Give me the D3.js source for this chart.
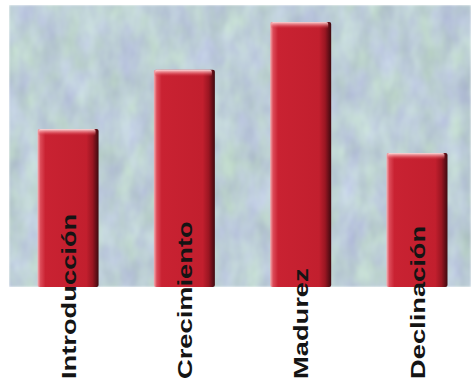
<!DOCTYPE html>
<html>
<head>
<meta charset="utf-8">
<script src="https://cdn.jsdelivr.net/npm/d3@7"></script>
<style>
  html, body { margin: 0; padding: 0; background: #ffffff; }
  svg { display: block; }
</style>
</head>
<body>
<script>
// Product life-cycle stages and their relative sales level
const stages = ["Introducción", "Crecimiento", "Madurez", "Declinación"];
const salesLevel = [56, 77, 94, 47.5];

const W = 471, H = 383;
const plot = { left: 9, right: 471, top: 5, bottom: 287 };

const svg = d3.select("body").append("svg")
  .attr("width", W).attr("height", H);

const defs = svg.append("defs");

// Marbled blue-grey backdrop
const tex = defs.append("filter").attr("id", "marble")
  .attr("x", 0).attr("y", 0).attr("width", 1).attr("height", 1)
  .attr("filterUnits", "objectBoundingBox")
  .attr("color-interpolation-filters", "sRGB");
tex.append("feTurbulence")
  .attr("type", "fractalNoise")
  .attr("baseFrequency", "0.05 0.028")
  .attr("numOctaves", 3)
  .attr("seed", 11)
  .attr("result", "noise");
tex.append("feColorMatrix")
  .attr("in", "noise")
  .attr("type", "matrix")
  .attr("values", [
    "0.06 0.15 0 0 0.635",
    "0.14 0.15 0 0 0.665",
    "-0.08 0.15 0 0 0.805",
    "0 0 0 0 1"
  ].join(" "))
  .attr("result", "col");
tex.append("feGaussianBlur").attr("in", "col").attr("stdDeviation", 1.2);

// Bar body: light left bevel, red face, dark right edge
const body = defs.append("linearGradient").attr("id", "barBody")
  .attr("x1", 0).attr("x2", 1).attr("y1", 0).attr("y2", 0);
[
  [0, "#f3b0b4"], [0.05, "#dc4a58"], [0.13, "#c92232"],
  [0.80, "#c21f2e"], [0.90, "#9a1622"], [1, "#3e0a10"]
].forEach(([o, c]) => body.append("stop").attr("offset", o).attr("stop-color", c));

// Top bevel highlight
const cap = defs.append("linearGradient").attr("id", "barCap")
  .attr("x1", 0).attr("x2", 0).attr("y1", 0).attr("y2", 1);
[
  [0, "#ffe6e6", 0.95], [0.45, "#f08a92", 0.6], [1, "#c92232", 0]
].forEach(([o, c, a]) => cap.append("stop").attr("offset", o)
  .attr("stop-color", c).attr("stop-opacity", a));

svg.append("rect")
  .attr("x", plot.left).attr("y", plot.top)
  .attr("width", plot.right - plot.left).attr("height", plot.bottom - plot.top)
  .attr("fill", "#b9ccd6")
  .attr("filter", "url(#marble)");

const x = d3.scaleBand()
  .domain(stages)
  .range([11.5, 473.5])
  .paddingInner(0.475)
  .paddingOuter(0.2236);

const y = d3.scaleLinear()
  .domain([0, 100])
  .range([plot.bottom, plot.top]);

const data = stages.map((s, i) => ({ stage: s, value: salesLevel[i] }));

const bars = svg.append("g").selectAll("g.bar")
  .data(data).join("g").attr("class", "bar");

bars.append("rect")
  .attr("x", d => x(d.stage))
  .attr("y", d => y(d.value))
  .attr("width", x.bandwidth())
  .attr("height", d => y(0) - y(d.value))
  .attr("rx", 2)
  .attr("fill", "url(#barBody)");

bars.append("rect")
  .attr("x", d => x(d.stage) + 1)
  .attr("y", d => y(d.value))
  .attr("width", x.bandwidth() - 4)
  .attr("height", 7)
  .attr("rx", 2)
  .attr("fill", "url(#barCap)");

// Stage names, set vertically and reading upward
svg.append("g").selectAll("text")
  .data(data).join("text")
  .attr("transform", d =>
    `translate(${x(d.stage) + x.bandwidth() / 2},379) rotate(-90) scale(1.3,1)`)
  .attr("dy", "0.36em")
  .attr("text-anchor", "start")
  .attr("font-family", "Liberation Sans, Arial, sans-serif")
  .attr("font-weight", "bold")
  .attr("font-size", 21)
  .attr("fill", "#141414")
  .text(d => d.stage);
</script>
</body>
</html>
